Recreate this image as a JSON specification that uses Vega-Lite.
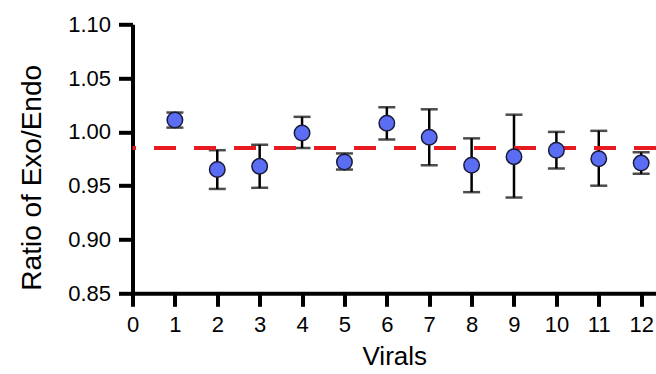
{
  "$schema": "https://vega.github.io/schema/vega-lite/v6.json",
  "width": 523.5,
  "height": 269,
  "autosize": {"type": "none"},
  "padding": {"left": 132.5, "top": 24.3, "right": 0, "bottom": 80.7},
  "background": "white",
  "config": {
    "view": {"stroke": null},
    "font": "Liberation Sans",
    "axis": {
      "grid": false,
      "domainColor": "black",
      "domainWidth": 4,
      "tickColor": "black",
      "tickWidth": 4,
      "labelColor": "black",
      "titleColor": "black",
      "labelFont": "Liberation Sans",
      "titleFont": "Liberation Sans",
      "titleFontWeight": "normal",
      "labelFontSize": 22,
      "labelFlush": false,
      "labelOverlap": false,
      "labelPadding": 8
    },
    "axisX": {
      "tickSize": 13,
      "titleFontSize": 26,
      "titlePadding": 8
    },
    "axisY": {
      "tickSize": 14,
      "titleFontSize": 28,
      "titleX": -92,
      "titleY": 153,
      "titleAngle": 270,
      "titleAlign": "center",
      "titleBaseline": "alphabetic"
    }
  },
  "data": {
    "values": [
      {"viral": 1, "ratio": 1.011, "lo": 1.004, "hi": 1.018},
      {"viral": 2, "ratio": 0.965, "lo": 0.947, "hi": 0.983},
      {"viral": 3, "ratio": 0.968, "lo": 0.948, "hi": 0.988},
      {"viral": 4, "ratio": 0.999, "lo": 0.985, "hi": 1.014},
      {"viral": 5, "ratio": 0.972, "lo": 0.965, "hi": 0.980},
      {"viral": 6, "ratio": 1.008, "lo": 0.993, "hi": 1.023},
      {"viral": 7, "ratio": 0.995, "lo": 0.969, "hi": 1.021},
      {"viral": 8, "ratio": 0.969, "lo": 0.944, "hi": 0.994},
      {"viral": 9, "ratio": 0.977, "lo": 0.939, "hi": 1.016},
      {"viral": 10, "ratio": 0.983, "lo": 0.966, "hi": 1.000},
      {"viral": 11, "ratio": 0.975, "lo": 0.950, "hi": 1.001},
      {"viral": 12, "ratio": 0.971, "lo": 0.961, "hi": 0.981}
    ]
  },
  "encoding": {
    "x": {
      "field": "viral",
      "type": "quantitative",
      "scale": {"domain": [0, 12.35], "nice": false, "zero": false},
      "axis": {
        "title": "Virals",
        "values": [0,1,2,3,4,5,6,7,8,9,10,11,12],
        "format": "d"
      }
    },
    "y": {
      "field": "ratio",
      "type": "quantitative",
      "scale": {"domain": [0.85, 1.10], "nice": false, "zero": false},
      "axis": {
        "title": "Ratio of Exo/Endo",
        "values": [0.85, 0.90, 0.95, 1.00, 1.05, 1.10],
        "format": ".2f"
      }
    }
  },
  "layer": [
    {
      "mark": {"type": "rule", "color": "black", "strokeWidth": 2.5},
      "encoding": {"y": {"field": "lo", "type": "quantitative"}, "y2": {"field": "hi"}}
    },
    {
      "mark": {"type": "tick", "orient": "horizontal", "color": "black", "size": 17, "thickness": 2.5},
      "encoding": {"y": {"field": "lo", "type": "quantitative"}}
    },
    {
      "mark": {"type": "tick", "orient": "horizontal", "color": "black", "size": 17, "thickness": 2.5},
      "encoding": {"y": {"field": "hi", "type": "quantitative"}}
    },
    {
      "data": {"values": [{"mean_line": 0.985}]},
      "mark": {"type": "rule", "color": "#E61A1F", "strokeWidth": 4, "strokeDash": [22, 18]},
      "encoding": {"x": null, "y": {"field": "mean_line", "type": "quantitative"}}
    },
    {
      "mark": {"type": "point", "filled": true, "shape": "circle", "size": 240, "fill": "#5B6DF2", "stroke": "#1a1a3a", "strokeWidth": 1.5, "opacity": 1}
    }
  ]
}
